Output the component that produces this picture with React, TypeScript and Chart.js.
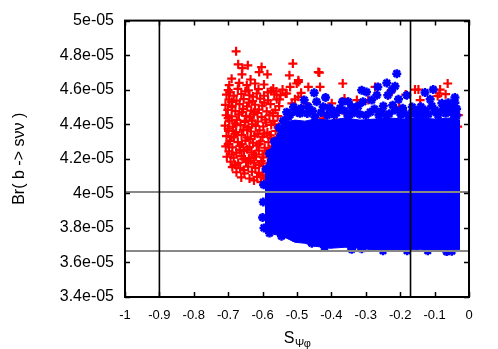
import React, { useEffect, useRef } from 'react';
import { Chart, registerables } from 'chart.js';

Chart.register(...registerables);

// ---- axes (y values are in units of 1e-05) ----
const xTickValues = [-1, -0.9, -0.8, -0.7, -0.6, -0.5, -0.4, -0.3, -0.2, -0.1, 0];
const xTickLabels = ['-1', '-0.9', '-0.8', '-0.7', '-0.6', '-0.5', '-0.4', '-0.3', '-0.2', '-0.1', '0'];
const yTickValues = [3.4, 3.6, 3.8, 4.0, 4.2, 4.4, 4.6, 4.8, 5.0];
const yTickLabels = ['3.4e-05', '3.6e-05', '3.8e-05', '4e-05', '4.2e-05', '4.4e-05', '4.6e-05', '4.8e-05', '5e-05'];
const xTitleMain = 'S';
const xTitleSub = 'Ψφ';
const yTitle = 'Br( b -> sνν )';

// ---- experimental bounds ----
const verticalCuts = [-0.9, -0.17];
const horizontalCuts = [4.008, 3.667];

// ---- blue sample: dense core envelope (x, upper, lower) ----
const blueCoreX = [-0.593, -0.578, -0.555, -0.535, -0.506, -0.477, -0.448, -0.404, -0.360, -0.317, -0.273, -0.230, -0.186, -0.142, -0.099, -0.055, -0.026];
const blueCoreTop = [4.125, 4.252, 4.355, 4.413, 4.424, 4.418, 4.430, 4.424, 4.436, 4.424, 4.430, 4.436, 4.430, 4.436, 4.430, 4.436, 4.424];
const blueCoreBottom = [3.780, 3.768, 3.757, 3.745, 3.717, 3.711, 3.694, 3.682, 3.688, 3.682, 3.671, 3.671, 3.671, 3.676, 3.671, 3.671, 3.676];

// ---- blue sample: individual points outside the dense core ----
const bluePoints: [number, number][] = [
  [-0.210, 4.693], [-0.239, 4.639], [-0.215, 4.620], [-0.265, 4.616], [-0.312, 4.597], [-0.298, 4.587],
  [-0.450, 4.582], [-0.225, 4.597], [-0.268, 4.568], [-0.236, 4.568], [-0.205, 4.544], [-0.181, 4.568],
  [-0.128, 4.584], [-0.104, 4.601], [-0.041, 4.555], [-0.113, 4.544], [-0.417, 4.555], [-0.479, 4.540],
  [-0.443, 4.530], [-0.368, 4.530], [-0.341, 4.501], [-0.308, 4.530], [-0.283, 4.540], [-0.193, 4.492],
  [-0.159, 4.476], [-0.140, 4.501], [-0.079, 4.521], [-0.060, 4.524], [-0.041, 4.524], [-0.506, 4.482],
  [-0.525, 4.443], [-0.467, 4.501], [-0.399, 4.482], [-0.424, 4.501], [-0.375, 4.492], [-0.249, 4.505],
  [-0.215, 4.482], [-0.099, 4.482], [-0.128, 4.482], [-0.050, 4.472], [-0.559, 4.290], [-0.574, 4.194],
  [-0.545, 4.367], [-0.491, 4.463], [-0.351, 4.530], [-0.331, 4.472], [-0.167, 4.463], [-0.448, 4.443],
  [-0.520, 4.455], [-0.470, 4.462], [-0.412, 4.452], [-0.385, 4.466], [-0.352, 4.448], [-0.318, 4.458],
  [-0.287, 4.470], [-0.262, 4.452], [-0.232, 4.461], [-0.198, 4.455], [-0.176, 4.448], [-0.151, 4.452],
  [-0.118, 4.458], [-0.090, 4.452], [-0.068, 4.463], [-0.036, 4.450], [-0.036, 4.490],
  [-0.500, 4.470], [-0.488, 4.492], [-0.455, 4.478], [-0.430, 4.468], [-0.405, 4.495], [-0.392, 4.455],
  [-0.362, 4.478], [-0.340, 4.462], [-0.322, 4.505], [-0.300, 4.452], [-0.275, 4.488], [-0.255, 4.475],
  [-0.240, 4.448], [-0.222, 4.510], [-0.190, 4.468], [-0.165, 4.500], [-0.150, 4.478], [-0.132, 4.455],
  [-0.108, 4.505], [-0.095, 4.468], [-0.075, 4.488], [-0.055, 4.500], [-0.045, 4.455], [-0.530, 4.470],
  [-0.510, 4.500],
  [-0.598, 3.950], [-0.600, 3.860], [-0.597, 4.050], [-0.596, 3.800], [-0.590, 4.140], [-0.580, 4.230],
  [-0.566, 4.300], [-0.552, 4.380], [-0.540, 4.420],
  [-0.506, 3.744], [-0.457, 3.711], [-0.341, 3.676], [-0.312, 3.680], [-0.065, 3.663], [-0.050, 3.665],
  [-0.580, 3.770], [-0.545, 3.752], [-0.420, 3.690], [-0.250, 3.668], [-0.180, 3.668], [-0.120, 3.668],
];

// ---- red sample ----
const redPoints: [number, number][] = [
  // dense cluster
  [-0.700, 4.598], [-0.672, 4.605], [-0.641, 4.596], [-0.612, 4.603], [-0.575, 4.594],
  [-0.705, 4.572], [-0.684, 4.566], [-0.662, 4.575], [-0.638, 4.568], [-0.617, 4.578], [-0.596, 4.565], [-0.566, 4.573], [-0.548, 4.569],
  [-0.698, 4.543], [-0.676, 4.537], [-0.655, 4.546], [-0.629, 4.534], [-0.607, 4.548], [-0.584, 4.539], [-0.559, 4.544],
  [-0.708, 4.512], [-0.688, 4.507], [-0.667, 4.516], [-0.645, 4.504], [-0.622, 4.513], [-0.601, 4.508], [-0.577, 4.517], [-0.552, 4.505],
  [-0.701, 4.483], [-0.679, 4.476], [-0.657, 4.487], [-0.633, 4.479], [-0.611, 4.485], [-0.588, 4.474], [-0.563, 4.482],
  [-0.706, 4.452], [-0.690, 4.446], [-0.669, 4.457], [-0.648, 4.449], [-0.626, 4.455], [-0.603, 4.443], [-0.580, 4.451], [-0.556, 4.447],
  [-0.697, 4.418], [-0.675, 4.425], [-0.652, 4.414], [-0.631, 4.422], [-0.614, 4.416], [-0.592, 4.427], [-0.569, 4.419],
  [-0.709, 4.392], [-0.686, 4.386], [-0.664, 4.395], [-0.641, 4.383], [-0.620, 4.391], [-0.598, 4.387], [-0.575, 4.396], [-0.553, 4.385],
  [-0.699, 4.362], [-0.677, 4.355], [-0.656, 4.366], [-0.634, 4.358], [-0.609, 4.364], [-0.586, 4.352], [-0.562, 4.361],
  [-0.705, 4.331], [-0.683, 4.326], [-0.661, 4.337], [-0.644, 4.324], [-0.623, 4.333], [-0.600, 4.328], [-0.578, 4.336],
  [-0.695, 4.302], [-0.672, 4.296], [-0.650, 4.305], [-0.628, 4.293], [-0.606, 4.301], [-0.583, 4.297], [-0.565, 4.306],
  [-0.707, 4.272], [-0.688, 4.266], [-0.666, 4.275], [-0.638, 4.268], [-0.617, 4.276], [-0.594, 4.264], [-0.572, 4.271],
  [-0.698, 4.243], [-0.676, 4.236], [-0.654, 4.245], [-0.632, 4.238], [-0.611, 4.247], [-0.589, 4.235], [-0.568, 4.242],
  [-0.704, 4.212], [-0.684, 4.206], [-0.661, 4.215], [-0.640, 4.204], [-0.619, 4.213], [-0.598, 4.208], [-0.577, 4.216],
  [-0.693, 4.183], [-0.671, 4.176], [-0.648, 4.185], [-0.626, 4.178], [-0.604, 4.186], [-0.585, 4.174],
  [-0.688, 4.152], [-0.665, 4.146], [-0.642, 4.155], [-0.621, 4.148], [-0.599, 4.157], [-0.580, 4.145],
  [-0.676, 4.122], [-0.653, 4.116], [-0.631, 4.125], [-0.611, 4.118], [-0.590, 4.126],
  [-0.662, 4.092], [-0.638, 4.086], [-0.616, 4.095], [-0.596, 4.089],
  [-0.690, 4.325], [-0.650, 4.420], [-0.615, 4.345], [-0.667, 4.250], [-0.635, 4.190], [-0.690, 4.500], [-0.625, 4.470],
  [-0.695, 4.585], [-0.650, 4.590], [-0.628, 4.560], [-0.585, 4.585], [-0.560, 4.590], [-0.690, 4.530],
  [-0.640, 4.525], [-0.595, 4.525], [-0.660, 4.470], [-0.615, 4.465], [-0.570, 4.465], [-0.700, 4.435],
  [-0.637, 4.440], [-0.590, 4.410], [-0.680, 4.405], [-0.630, 4.400], [-0.565, 4.400], [-0.700, 4.375],
  [-0.645, 4.370], [-0.595, 4.345], [-0.575, 4.320], [-0.680, 4.345], [-0.635, 4.315], [-0.660, 4.285],
  [-0.610, 4.285], [-0.700, 4.285], [-0.580, 4.255], [-0.645, 4.255], [-0.690, 4.225], [-0.625, 4.225],
  [-0.600, 4.225], [-0.655, 4.200], [-0.680, 4.165], [-0.610, 4.165], [-0.655, 4.135], [-0.600, 4.105],
  [-0.625, 4.075], [-0.605, 4.065],
  // scattered above the cluster
  [-0.677, 4.822], [-0.671, 4.747], [-0.643, 4.741], [-0.659, 4.725], [-0.603, 4.731], [-0.610, 4.702],
  [-0.586, 4.689], [-0.522, 4.683], [-0.690, 4.664], [-0.660, 4.689], [-0.635, 4.659], [-0.622, 4.636],
  [-0.646, 4.626], [-0.668, 4.639], [-0.697, 4.626], [-0.596, 4.630], [-0.569, 4.607], [-0.542, 4.601],
  [-0.530, 4.578], [-0.551, 4.544], [-0.501, 4.636], [-0.520, 4.616], [-0.496, 4.559],
  // scattered over the blue region
  [-0.512, 4.751], [-0.496, 4.655], [-0.438, 4.702], [-0.367, 4.636], [-0.467, 4.616], [-0.433, 4.616],
  [-0.533, 4.578], [-0.506, 4.544], [-0.474, 4.521], [-0.459, 4.478], [-0.399, 4.521], [-0.362, 4.549],
  [-0.326, 4.540], [-0.293, 4.540], [-0.273, 4.616], [-0.225, 4.593], [-0.235, 4.568], [-0.184, 4.572],
  [-0.157, 4.601], [-0.147, 4.601], [-0.084, 4.601], [-0.062, 4.636], [-0.091, 4.563], [-0.068, 4.574],
  [-0.060, 4.501], [-0.142, 4.540], [-0.203, 4.501], [-0.259, 4.467], [-0.360, 4.463], [-0.385, 4.424],
  [-0.424, 4.434], [-0.496, 4.396], [-0.089, 4.424], [-0.031, 4.453], [-0.033, 4.386], [-0.138, 4.338],
  [-0.435, 4.699], [-0.496, 4.645], [-0.488, 4.582], [-0.227, 4.593], [-0.086, 4.578], [-0.044, 4.486],
  [-0.068, 4.498], [-0.515, 4.521],
];

const FONT = "'Liberation Sans', Arial, Helvetica, sans-serif";
const BLUE = '#0000ff';
const RED = '#ff0000';

const framePlugin = {
  id: 'gnuFrame',
  afterDraw(chart: any) {
    const { ctx, chartArea } = chart;
    const { left, right, top, bottom } = chartArea;
    const xs = chart.scales.x;
    const ys = chart.scales.y;
    ctx.save();
    ctx.strokeStyle = '#000';
    ctx.lineWidth = 1.5;
    const tl = 5;
    ctx.beginPath();
    xTickValues.forEach((v) => {
      const px = Math.round(xs.getPixelForValue(v)) + 0.5;
      ctx.moveTo(px, bottom);
      ctx.lineTo(px, bottom - tl);
      ctx.moveTo(px, top);
      ctx.lineTo(px, top + tl);
    });
    yTickValues.forEach((v) => {
      const py = Math.round(ys.getPixelForValue(v)) + 0.5;
      ctx.moveTo(left, py);
      ctx.lineTo(left + tl, py);
      ctx.moveTo(right, py);
      ctx.lineTo(right - tl, py);
    });
    ctx.stroke();
    ctx.lineWidth = 2;
    ctx.strokeRect(left, top, right - left, bottom - top);

    // x-axis title with subscript
    ctx.fillStyle = '#000';
    ctx.textBaseline = 'alphabetic';
    ctx.textAlign = 'left';
    ctx.font = `16px ${FONT}`;
    const wMain = ctx.measureText(xTitleMain).width;
    ctx.font = `11px ${FONT}`;
    const wSub = ctx.measureText(xTitleSub).width;
    const cx = (left + right) / 2;
    const x0 = cx - (wMain + wSub) / 2;
    ctx.font = `16px ${FONT}`;
    ctx.fillText(xTitleMain, x0, 343);
    ctx.font = `11px ${FONT}`;
    ctx.fillText(xTitleSub, x0 + wMain + 0.5, 347);
    ctx.restore();
  },
};

export default function App() {
  const canvasRef = useRef<HTMLCanvasElement | null>(null);

  useEffect(() => {
    if (!canvasRef.current) return;
    const coreLower = blueCoreX.map((x, i) => ({ x, y: blueCoreBottom[i] }));
    const coreUpper = blueCoreX.map((x, i) => ({ x, y: blueCoreTop[i] }));
    const lineDs = (data: { x: number; y: number }[], color: string, width: number) => ({
      type: 'line' as const,
      data,
      borderColor: color,
      borderWidth: width,
      pointRadius: 0,
      fill: false,
      order: 0,
    });

    const chart = new Chart(canvasRef.current, {
      type: 'scatter',
      data: {
        datasets: [
          {
            label: 'blue',
            data: bluePoints.map(([x, y]) => ({ x, y })),
            pointStyle: 'star',
            pointRadius: 4.5,
            borderColor: BLUE,
            backgroundColor: BLUE,
            borderWidth: 2.5,
            order: 1,
          } as any,
          {
            type: 'line',
            label: 'blue core lower',
            data: coreLower,
            borderColor: BLUE,
            borderWidth: 1,
            pointRadius: 0,
            fill: false,
            order: 2,
          } as any,
          {
            type: 'line',
            label: 'blue core upper',
            data: coreUpper,
            borderColor: BLUE,
            borderWidth: 1,
            backgroundColor: BLUE,
            pointRadius: 0,
            fill: '-1',
            order: 2,
          } as any,
          {
            label: 'red',
            data: redPoints.map(([x, y]) => ({ x, y })),
            pointStyle: 'cross',
            pointRadius: 4.5,
            borderColor: RED,
            backgroundColor: RED,
            borderWidth: 2.2,
            order: 3,
          } as any,
          ...verticalCuts.map((v) => lineDs([{ x: v, y: yTickValues[0] }, { x: v, y: yTickValues[yTickValues.length - 1] }], '#000', 1.6)),
          ...horizontalCuts.map((v) => lineDs([{ x: xTickValues[0], y: v }, { x: xTickValues[xTickValues.length - 1], y: v }], '#888888', 2)),
        ] as any,
      },
      options: {
        responsive: false,
        animation: false,
        events: [],
        layout: { padding: { top: 19, right: 29, left: 0, bottom: 0 } },
        plugins: { legend: { display: false }, tooltip: { enabled: false } },
        scales: {
          x: {
            type: 'linear',
            min: -1,
            max: 0,
            grid: { display: false, drawTicks: false },
            border: { display: false },
            afterBuildTicks: (s: any) => {
              s.ticks = xTickValues.map((v) => ({ value: v }));
            },
            afterFit: (s: any) => {
              s.height = 52;
            },
            ticks: {
              autoSkip: false,
              maxRotation: 0,
              padding: 11,
              color: '#000',
              font: { family: FONT, size: 13 },
              callback: (_v: any, i: number) => xTickLabels[i],
            },
          },
          y: {
            type: 'linear',
            min: 3.4,
            max: 5,
            grid: { display: false, drawTicks: false },
            border: { display: false },
            afterBuildTicks: (s: any) => {
              s.ticks = yTickValues.map((v) => ({ value: v }));
            },
            afterFit: (s: any) => {
              s.width = 125;
            },
            ticks: {
              autoSkip: false,
              padding: 11,
              color: '#000',
              font: { family: FONT, size: 16 },
              callback: (_v: any, i: number) => yTickLabels[i],
            },
            title: {
              display: true,
              text: yTitle,
              color: '#000',
              font: { family: FONT, size: 16 },
              padding: { top: 10, bottom: 0 },
            },
          },
        },
      } as any,
      plugins: [framePlugin],
    });
    return () => chart.destroy();
  }, []);

  return (
    <div style={{ position: 'fixed', left: 0, top: 0, width: 498, height: 349, background: '#fff' }}>
      <canvas ref={canvasRef} width={498} height={349} style={{ display: 'block' }} />
    </div>
  );
}
